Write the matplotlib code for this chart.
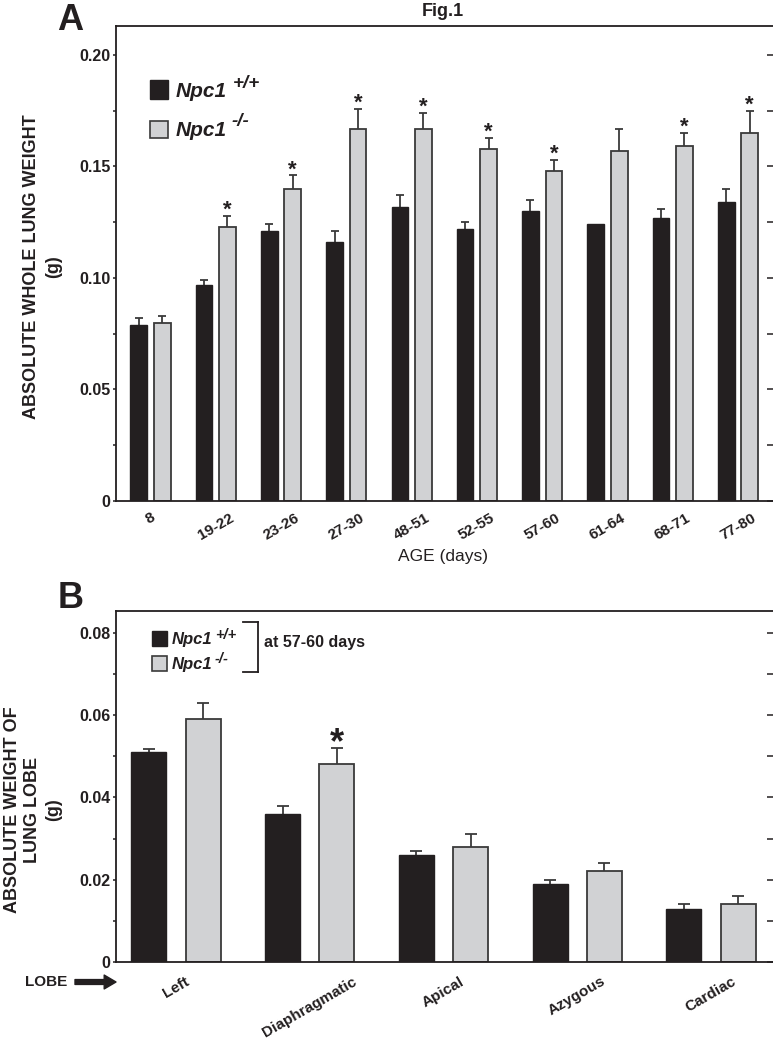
import numpy as np
import matplotlib
matplotlib.use("Agg")
import matplotlib.pyplot as plt
from matplotlib.lines import Line2D
from matplotlib.patches import Rectangle, FancyArrowPatch
from matplotlib.ticker import MultipleLocator, FuncFormatter

plt.rcParams['font.family'] = ['Liberation Sans', 'DejaVu Sans']

# ---------------- data ----------------
ages = ["8", "19-22", "23-26", "27-30", "48-51", "52-55", "57-60", "61-64", "68-71", "77-80"]
wt_A = [0.079, 0.097, 0.121, 0.116, 0.132, 0.122, 0.130, 0.124, 0.127, 0.134]
wt_A_err = [0.003, 0.002, 0.003, 0.005, 0.005, 0.003, 0.005, 0.0, 0.004, 0.006]
ko_A = [0.080, 0.123, 0.140, 0.167, 0.167, 0.158, 0.148, 0.157, 0.159, 0.165]
ko_A_err = [0.003, 0.005, 0.006, 0.009, 0.007, 0.005, 0.005, 0.010, 0.006, 0.010]
sig_A = [False, True, True, True, True, True, True, False, True, True]

lobes = ["Left", "Diaphragmatic", "Apical", "Azygous", "Cardiac"]
wt_B = [0.051, 0.036, 0.026, 0.019, 0.013]
wt_B_err = [0.0007, 0.002, 0.001, 0.001, 0.001]
ko_B = [0.059, 0.048, 0.028, 0.022, 0.014]
ko_B_err = [0.004, 0.004, 0.003, 0.002, 0.002]
sig_B = [False, True, False, False, False]

BLACK = "#231f20"
GRAY = "#d1d2d4"
EDGE = "#3a3a3a"

W, H = 773, 1050
fig = plt.figure(figsize=(W / 100, H / 100), dpi=100)


def fx(px):
    return px / W


def fy(py):
    return 1 - py / H


def fmt(v, pos):
    return "0" if abs(v) < 1e-12 else f"{v:.2f}"


def panel(ax, cats, wt, wte, ko, koe, sig, off, width, capsize, ylim, major, minor,
          xlim, xpad, star_size, star_off):
    x = np.arange(len(cats))
    ax.bar(x - off, wt, width, color=BLACK, edgecolor=BLACK, lw=1.0, zorder=2)
    ax.bar(x + off, ko, width, color=GRAY, edgecolor=EDGE, lw=1.3, zorder=2)
    for xs, vals, errs in ((x - off, wt, wte), (x + off, ko, koe)):
        vals = np.asarray(vals)
        errs = np.asarray(errs)
        m = errs > 0
        cont = ax.errorbar(xs[m], vals[m], yerr=[np.zeros(m.sum()), errs[m]], fmt='none',
                           ecolor=EDGE, elinewidth=1.3, capsize=capsize, capthick=1.3,
                           zorder=1)
        # hide the zero-length lower caps
        for cl in cont[1]:
            if np.allclose(cl.get_ydata(), vals[m]):
                cl.set_visible(False)
    for i, s in enumerate(sig):
        if s:
            ax.annotate("*", xy=(x[i] + off, ko[i] + koe[i]), xytext=(0, star_off),
                        textcoords='offset points', ha='center', va='baseline',
                        fontsize=star_size, fontweight='bold', color=BLACK)
    ax.set_xlim(*xlim)
    ax.set_ylim(*ylim)
    ax.set_xticks(x)
    ax.set_xticklabels(cats, rotation=30, ha='center', fontsize=11, fontweight='bold',
                       color=BLACK)
    ax.tick_params(axis='x', length=0, pad=xpad)
    ax.yaxis.set_major_locator(MultipleLocator(major))
    ax.yaxis.set_minor_locator(MultipleLocator(minor))
    ax.yaxis.set_major_formatter(FuncFormatter(fmt))
    ax.tick_params(axis='y', which='both', direction='out', length=2.4, width=1.1,
                   color=BLACK, pad=1.5, labelsize=11.5)
    for lab in ax.get_yticklabels():
        lab.set_fontweight('bold')
        lab.set_color(BLACK)
    for side in ('left', 'bottom', 'top', 'right'):
        ax.spines[side].set_linewidth(1.3)
        ax.spines[side].set_color(BLACK)
    tw = ax.twinx()
    tw.set_ylim(*ylim)
    tw.yaxis.set_major_locator(MultipleLocator(minor))
    tw.tick_params(axis='y', which='both', direction='in', length=5.5, width=1.1,
                   color=BLACK, labelright=False)
    for side in ('left', 'bottom', 'top', 'right'):
        tw.spines[side].set_visible(False)


# ---------------- Panel A ----------------
axA = fig.add_axes([fx(116), fy(501), fx(659), 475 / H])
panel(axA, ages, wt_A, wt_A_err, ko_A, ko_A_err, sig_A, off=0.18, width=0.255,
      capsize=2.9, ylim=(0, 0.213), major=0.05, minor=0.025,
      xlim=(-0.528, 9.567), xpad=7, star_size=16, star_off=0)

# ---------------- Panel B ----------------
axB = fig.add_axes([fx(116), fy(962), fx(659), 351 / H])
panel(axB, lobes, wt_B, wt_B_err, ko_B, ko_B_err, sig_B, off=0.203, width=0.262,
      capsize=4.3, ylim=(0, 0.0853), major=0.02, minor=0.01,
      xlim=(-0.449, 4.479), xpad=9, star_size=26, star_off=-4)

# ---------------- texts ----------------
fig.text(fx(443), fy(12), "Fig.1", ha='center', va='center', fontsize=13,
         fontweight='bold', color=BLACK)
fig.text(fx(70), fy(20), "A", ha='center', va='center', fontsize=26,
         fontweight='bold', color=BLACK)
fig.text(fx(71), fy(598), "B", ha='center', va='center', fontsize=26,
         fontweight='bold', color=BLACK)

fig.text(fx(43), fy(267), "ABSOLUTE WHOLE LUNG WEIGHT\n(g)", rotation=90,
         ha='center', va='center', multialignment='center', fontsize=13,
         fontweight='bold', color=BLACK, linespacing=1.4)
fig.text(fx(33), fy(810), "ABSOLUTE WEIGHT OF\nLUNG LOBE\n(g)", rotation=90,
         ha='center', va='center', multialignment='center', fontsize=13,
         fontweight='bold', color=BLACK, linespacing=1.25)

fig.text(fx(443), fy(556), "AGE (days)", ha='center', va='center', fontsize=12.5,
         color=BLACK)

# legend A
fig.add_artist(Rectangle((fx(150), fy(99)), fx(18), 19 / H, transform=fig.transFigure,
                         facecolor=BLACK, edgecolor=BLACK, lw=1.0))
fig.add_artist(Rectangle((fx(150), fy(138)), fx(18), 17 / H, transform=fig.transFigure,
                         facecolor=GRAY, edgecolor=EDGE, lw=1.2))


def leg_entry(xpx, ypx, sup, sup_ypx, fs, sfs, gap):
    t = fig.text(fx(xpx), fy(ypx), "Npc1", ha='left', va='baseline', fontsize=fs,
                 fontweight='bold', fontstyle='italic', color=BLACK)
    fig.canvas.draw()
    bb = t.get_window_extent()
    fig.text((bb.x1 + gap) / W, fy(sup_ypx), sup, ha='left', va='center',
             fontsize=sfs, fontweight='bold', fontstyle='italic', color=BLACK)


leg_entry(176, 97, "+/+", 84, 15, 13.5, 6)
leg_entry(176, 136, "-/-", 122, 15, 13.5, 4)

# legend B
fig.add_artist(Rectangle((fx(152), fy(646)), fx(15), 15 / H, transform=fig.transFigure,
                         facecolor=BLACK, edgecolor=BLACK, lw=1.0))
fig.add_artist(Rectangle((fx(152), fy(671)), fx(15), 15 / H, transform=fig.transFigure,
                         facecolor=GRAY, edgecolor=EDGE, lw=1.2))
leg_entry(172, 644, "+/+", 635, 12, 10.5, 2)
leg_entry(172, 669, "-/-", 659, 12, 10.5, 2)

for (x0, y0, x1, y1) in ((243, 622, 258, 622), (258, 622, 258, 672), (243, 672, 258, 672)):
    fig.add_artist(Line2D([fx(x0), fx(x1)], [fy(y0), fy(y1)], transform=fig.transFigure,
                          color=BLACK, lw=1.3))
fig.text(fx(264), fy(643), "at 57-60 days", ha='left', va='center', fontsize=11.5,
         fontweight='bold', color=BLACK)

# LOBE arrow
fig.text(fx(25), fy(982), "LOBE", ha='left', va='center', fontsize=11,
         fontweight='bold', color=BLACK)
fig.add_artist(FancyArrowPatch((fx(75), fy(982)), (fx(116), fy(982)),
                               transform=fig.transFigure,
                               arrowstyle="simple,head_length=0.85,head_width=1.0,tail_width=0.35",
                               mutation_scale=10, color=BLACK, shrinkA=0, shrinkB=0))

fig.savefig("out.png", dpi=100)
